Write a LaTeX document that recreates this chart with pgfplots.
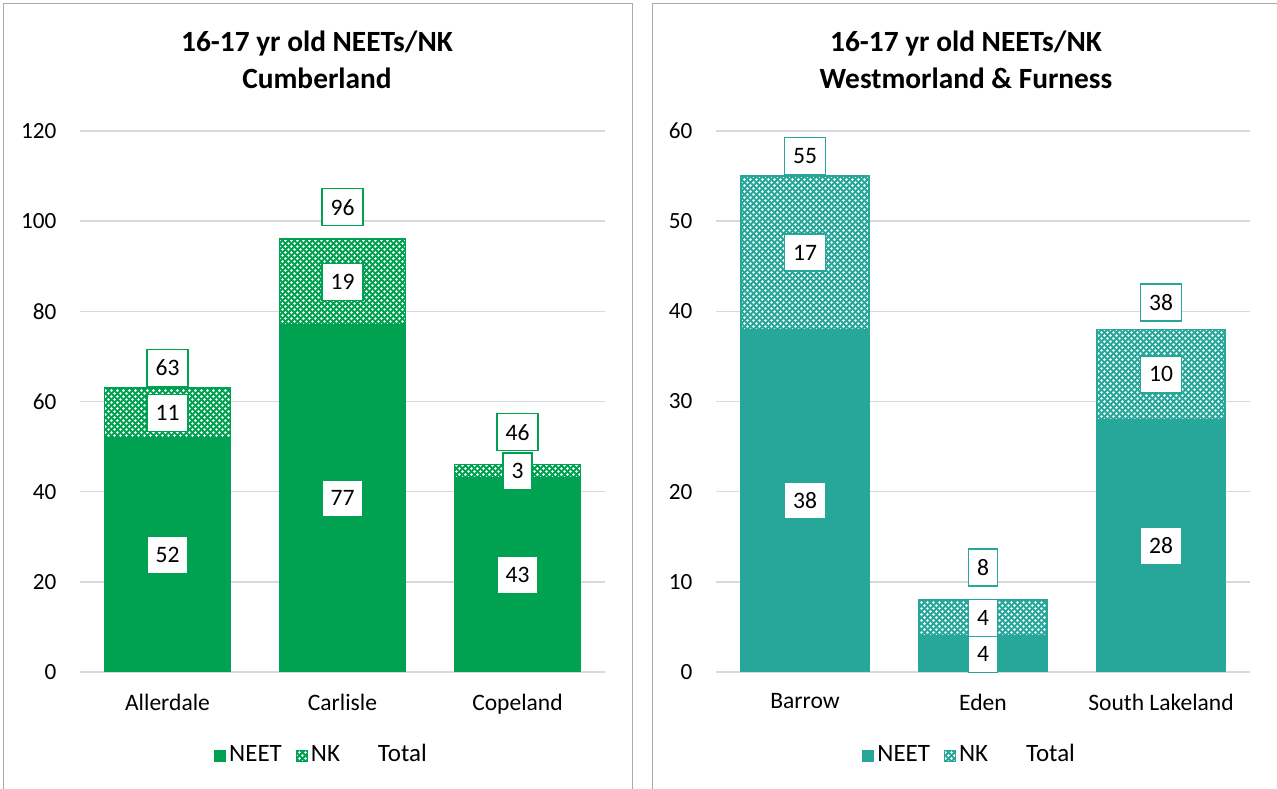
\documentclass[border=0pt]{standalone}
\usepackage{fontspec}
\setmainfont{Carlito}
\usepackage{pgfplots}
\pgfplotsset{compat=1.18}
\usetikzlibrary{patterns}

\definecolor{cumb}{RGB}{0,161,81}
\definecolor{wf}{RGB}{38,167,154}
\definecolor{gridc}{RGB}{217,217,217}
\definecolor{framec}{RGB}{170,170,170}

% white dot lattice used for the NK segments
\pgfdeclarepatternformonly{nkdots}{\pgfpointorigin}{\pgfpoint{1.7pt}{1.7pt}}{\pgfpoint{1.7pt}{1.7pt}}{%
  \pgfpathcircle{\pgfpoint{0.425pt}{0.425pt}}{0.42pt}%
  \pgfpathcircle{\pgfpoint{1.275pt}{1.275pt}}{0.42pt}%
  \pgfusepath{fill}}

\newcommand{\lblfont}{\fontsize{6.7}{8}\selectfont}

\tikzset{
  lbl/.style={draw=#1, fill=white, line width=0.15mm, font=\lblfont, text=black,
    inner xsep=0.85mm, inner ysep=0pt, minimum height=3.7mm},
}

\pgfplotsset{
  panel/.style={
    scale only axis, height=54.1mm,
    ymin=0, xmin=-0.5, xmax=2.5,
    ybar stacked, bar width=0.72,
    xtick={0,1,2},
    ymajorgrids, grid style={gridc, line width=0.15mm},
    axis line style={draw=none}, major tick length=0pt,
    /pgf/number format/assume math mode=true,
    yticklabel style={font=\fontsize{6.6}{8}\selectfont, inner sep=0pt, xshift=-2.3mm},
    xticklabel style={font=\lblfont, inner sep=0pt, yshift=-2.1mm},
    legend style={draw=none, fill=none, legend columns=3, anchor=center,
      font=\fontsize{7.1}{8.5}\selectfont, nodes={inner sep=0.3mm},
      /tikz/every even column/.append style={column sep=1.1mm}},
    legend cell align=left,
  },
  sq/.style={legend image code/.code={\draw[##1, line width=0.1mm] (0,-0.55mm) rectangle (1.1mm,0.55mm);}},
  blank/.style={legend image code/.code={\path[draw=none, fill=none] (0,-0.55mm) rectangle (2.1mm,0.55mm);}},
}

\begin{document}
\begin{tikzpicture}
\path[use as bounding box] (0,0) rectangle (127.7mm,78.9mm);
\draw[framec, line width=0.1mm] (0.3mm,-2mm) rectangle (63.2mm,78.5mm);
\draw[framec, line width=0.1mm] (65.2mm,-2mm) rectangle (130mm,78.5mm);

\node[align=center, font=\bfseries\fontsize{8.35}{10.4}\selectfont] at (31.7mm,72.9mm)
  {16-17 yr old NEETs/NK\\Cumberland};
\node[align=center, font=\bfseries\fontsize{8.35}{10.4}\selectfont] at (96.6mm,72.9mm)
  {16-17 yr old NEETs/NK\\Westmorland \& Furness};

% Cumberland
\begin{axis}[panel, at={(8mm,11.7mm)}, anchor=south west, width=52.5mm,
  ymax=120, ytick={0,20,40,60,80,100,120},
  xticklabels={Allerdale,Carlisle,Copeland},
  legend style={at={(0.461,-0.155)}}]
  \addplot[fill=cumb, draw=cumb, sq] coordinates {(0,52) (1,77) (2,43)};
  \addplot[fill=cumb, draw=cumb, sq, postaction={pattern=nkdots, pattern color=white}]
    coordinates {(0,11) (1,19) (2,3)};
  \addlegendentry{NEET}
  \addlegendentry{NK}
  \addlegendimage{blank}
  \addlegendentry{Total}
  \coordinate (a1) at (axis cs:0,26);
  \coordinate (a2) at (axis cs:1,38.5);
  \coordinate (a3) at (axis cs:2,21.5);
  \coordinate (b1) at (axis cs:0,57.5);
  \coordinate (b2) at (axis cs:1,86.5);
  \coordinate (b3) at (axis cs:2,44.5);
  \coordinate (t1) at (axis cs:0,67.4);
  \coordinate (t2) at (axis cs:1,103.1);
  \coordinate (t3) at (axis cs:2,53.2);
\end{axis}
\node[lbl=cumb] at (a1) {52};
\node[lbl=cumb] at (a2) {77};
\node[lbl=cumb] at (a3) {43};
\node[lbl=cumb] at (b1) {11};
\node[lbl=cumb] at (b2) {19};
\node[lbl=cumb] at (b3) {3};
\node[lbl=cumb] at (t1) {63};
\node[lbl=cumb] at (t2) {96};
\node[lbl=cumb] at (t3) {46};

% Westmorland & Furness
\begin{axis}[panel, at={(71.6mm,11.7mm)}, anchor=south west, width=53.4mm,
  ymax=60, ytick={0,10,20,30,40,50,60},
  xticklabels={Barrow,Eden,South Lakeland},
  legend style={at={(0.476,-0.155)}}]
  \addplot[fill=wf, draw=wf, sq] coordinates {(0,38) (1,4) (2,28)};
  \addplot[fill=wf, draw=wf, sq, postaction={pattern=nkdots, pattern color=white}]
    coordinates {(0,17) (1,4) (2,10)};
  \addlegendentry{NEET}
  \addlegendentry{NK}
  \addlegendimage{blank}
  \addlegendentry{Total}
  \coordinate (c1) at (axis cs:0,19);
  \coordinate (c2) at (axis cs:1,2);
  \coordinate (c3) at (axis cs:2,14);
  \coordinate (d1) at (axis cs:0,46.5);
  \coordinate (d2) at (axis cs:1,6);
  \coordinate (d3) at (axis cs:2,33);
  \coordinate (u1) at (axis cs:0,57.2);
  \coordinate (u2) at (axis cs:1,11.6);
  \coordinate (u3) at (axis cs:2,41.0);
\end{axis}
\node[lbl=wf] at (c1) {38};
\node[lbl=wf] at (c2) {4};
\node[lbl=wf] at (c3) {28};
\node[lbl=wf] at (d1) {17};
\node[lbl=wf] at (d2) {4};
\node[lbl=wf] at (d3) {10};
\node[lbl=wf] at (u1) {55};
\node[lbl=wf] at (u2) {8};
\node[lbl=wf] at (u3) {38};
\end{tikzpicture}
\end{document}
